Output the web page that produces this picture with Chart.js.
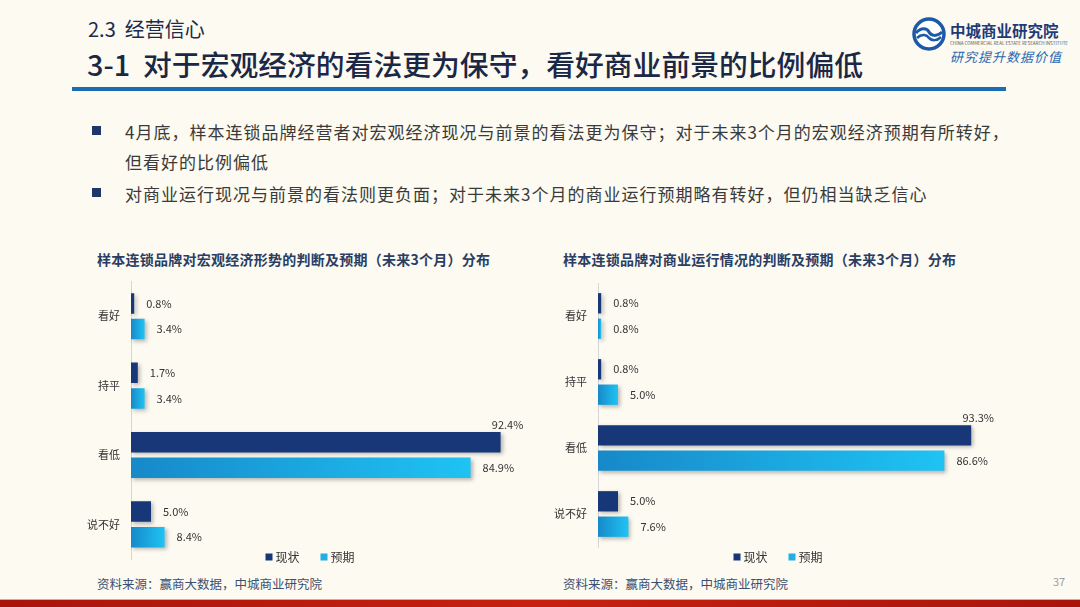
<!DOCTYPE html>
<html>
<head>
<meta charset="utf-8">
<script src="https://cdn.jsdelivr.net/npm/chart.js@4/dist/chart.umd.min.js"></script>
<style>
  body { margin: 0; width: 1080px; height: 607px; background: #fcfaf1; position: relative; overflow: hidden;
         font-family: "Noto Sans CJK SC", "Noto Sans", sans-serif; }
  .abs { position: absolute; white-space: nowrap; }
  .sub { left: 88px; top: 14px; font-size: 20px; color: #1c2b4b; }
  .title { left: 87px; top: 43px; font-size: 28.8px; color: #1a2745; font-weight: 500; }
  .rule { left: 72px; top: 87px; width: 934px; height: 4px; background: #1c6cb2; }
  .bullet { left: 125px; font-size: 17px; color: #3a3a3a; letter-spacing: 1px; }
  .sq { width: 9px; height: 9px; background: #1e3768; left: 92px; }
  .ctitle { font-size: 14px; font-weight: bold; color: #2a3d63; top: 249px; letter-spacing: 0.25px; }
  .src { font-size: 12.5px; color: #3d4f70; top: 574px; }
  .page { left: 1053px; top: 573px; font-size: 11px; color: #a0a0a0; }
  .band { left: 0; top: 599px; width: 1080px; height: 8px; background: linear-gradient(90deg, #a8150c, #c8200f 50%, #a8150c); border-top: 1px solid #e7a58e; }
  .box { position: absolute; }
</style>
</head>
<body>
<div class="abs sub">2.3&nbsp; 经营信心</div>
<div class="abs title">3-1&nbsp; 对于宏观经济的看法更为保守，看好商业前景的比例偏低</div>
<div class="abs rule"></div>

<svg class="abs" style="left:911px;top:16px" width="36" height="36" viewBox="0 0 36 36">
  <circle cx="18" cy="18" r="15" fill="#ffffff" stroke="#1d5aa6" stroke-width="3.5"/>
  <path d="M5 17 C10 11, 16 12, 18 16 C20 20, 26 21, 31 16" fill="none" stroke="#1d5aa6" stroke-width="3"/>
  <path d="M6 22 C11 17, 16 19, 18 22 C21 25, 26 25, 30 21" fill="none" stroke="#1d5aa6" stroke-width="2.5"/>
</svg>
<div class="abs" style="left:950px;top:19px;font-size:15.5px;font-weight:bold;color:#1f3a78">中城商业研究院</div>
<div class="abs" style="left:950px;top:40px;font-size:4.5px;color:#555">CHINA COMMERCIAL REAL ESTATE RESEARCH INSTITUTE</div>
<div class="abs" style="left:950px;top:47px;font-size:13px;color:#2a66b0;font-style:italic;letter-spacing:1px">研究提升数据价值</div>

<div class="abs sq" style="top:126px"></div>
<div class="abs bullet" style="top:119px">4月底，样本连锁品牌经营者对宏观经济现况与前景的看法更为保守；对于未来3个月的宏观经济预期有所转好，</div>
<div class="abs bullet" style="top:149px">但看好的比例偏低</div>
<div class="abs sq" style="top:188px"></div>
<div class="abs bullet" style="top:181px">对商业运行现况与前景的看法则更负面；对于未来3个月的商业运行预期略有转好，但仍相当缺乏信心</div>

<div class="abs ctitle" style="left:97px">样本连锁品牌对宏观经济形势的判断及预期（未来3个月）分布</div>
<div class="abs ctitle" style="left:563px">样本连锁品牌对商业运行情况的判断及预期（未来3个月）分布</div>

<div class="box" style="left:80px;top:272px;width:460px;height:300px"><canvas id="macroChart" width="460" height="300"></canvas></div>
<div class="box" style="left:545px;top:272px;width:466px;height:300px"><canvas id="bizChart" width="466" height="300"></canvas></div>

<div class="abs src" style="left:97px">资料来源：赢商大数据，中城商业研究院</div>
<div class="abs src" style="left:563px">资料来源：赢商大数据，中城商业研究院</div>
<div class="abs page">37</div>
<div class="abs band"></div>

<script>
// Chart data
const categories = ['看好', '持平', '看低', '说不好'];
const seriesNames = ['现状', '预期'];
const macroCurrent = [0.8, 1.7, 92.4, 5.0];
const macroExpected = [3.4, 3.4, 84.9, 8.4];
const bizCurrent = [0.8, 0.8, 93.3, 5.0];
const bizExpected = [0.8, 5.0, 86.6, 7.6];

const FONT = '"Noto Sans CJK SC", "Noto Sans", sans-serif';
const DARK = '#173779';
const CYAN = '#20b0e6';

// Per-bar gradient for the "预期" bars
function cyanFill(context) {
    if (context.type !== 'data') return CYAN;
    const chart = context.chart;
    const xs = chart.scales.x;
    if (!xs || !chart.chartArea) return CYAN;
    const x0 = xs.getPixelForValue(0);
    const x1 = Math.max(xs.getPixelForValue(context.parsed.x), x0 + 1);
    const g = chart.ctx.createLinearGradient(x0, 0, x1, 0);
    g.addColorStop(0, '#1789c9');
    g.addColorStop(1, '#1fc3f3');
    return g;
}

// Soft shadow under bars
const shadowPlugin = {
    id: 'barShadow',
    beforeDatasetsDraw(chart) {
        const ctx = chart.ctx;
        ctx.save();
        ctx.shadowColor = 'rgba(0,0,0,0.28)';
        ctx.shadowBlur = 4;
        ctx.shadowOffsetX = 2;
        ctx.shadowOffsetY = 2;
    },
    afterDatasetsDraw(chart) {
        chart.ctx.restore();
    }
};

// Value labels: next to bar end, big "现状" values above the bar
const valueLabels = {
    id: 'valueLabels',
    afterDatasetsDraw(chart) {
        const ctx = chart.ctx;
        ctx.save();
        ctx.font = '11px ' + FONT;
        ctx.fillStyle = '#333';
        chart.data.datasets.forEach((ds, di) => {
            chart.getDatasetMeta(di).data.forEach((bar, i) => {
                const v = ds.data[i];
                const txt = v.toFixed(1) + '%';
                if (di === 0 && v > 50) {
                    ctx.textAlign = 'center';
                    ctx.textBaseline = 'bottom';
                    ctx.fillText(txt, bar.x + 7, bar.y - bar.height / 2 - 2);
                } else {
                    ctx.textAlign = 'left';
                    ctx.textBaseline = 'middle';
                    ctx.fillText(txt, bar.x + 12, bar.y);
                }
            });
        });
        ctx.restore();
    }
};

// Small legend drawn under the plot
const miniLegend = {
    id: 'miniLegend',
    afterDraw(chart, args, opts) {
        const ctx = chart.ctx;
        ctx.save();
        ctx.font = '12px ' + FONT;
        ctx.textBaseline = 'middle';
        ctx.textAlign = 'left';
        const items = chart.data.datasets.map((ds, i) => ({ text: ds.label, color: i === 0 ? DARK : CYAN }));
        const widths = items.map(it => 7 + 3 + ctx.measureText(it.text).width);
        const gap = 21;
        let x = opts.cx - (widths.reduce((a, b) => a + b, 0) + gap * (items.length - 1)) / 2;
        items.forEach((it, i) => {
            ctx.fillStyle = it.color;
            ctx.fillRect(x, opts.cy - 3.5, 7, 7);
            ctx.fillStyle = '#333';
            ctx.fillText(it.text, x + 10, opts.cy + 0.5);
            x += widths[i] + gap;
        });
        ctx.restore();
    }
};

function makeChart(id, current, expected, axisWidth, pad, legendPos, catPct) {
    return new Chart(document.getElementById(id), {
        type: 'bar',
        data: {
            labels: categories,
            datasets: [{
                label: seriesNames[0],
                data: current,
                backgroundColor: DARK,
                categoryPercentage: catPct,
                barPercentage: 0.8
            }, {
                label: seriesNames[1],
                data: expected,
                backgroundColor: cyanFill,
                categoryPercentage: catPct,
                barPercentage: 0.8
            }]
        },
        plugins: [shadowPlugin, valueLabels, miniLegend],
        options: {
            indexAxis: 'y',
            responsive: false,
            animation: false,
            layout: { padding: pad },
            scales: {
                x: { min: 0, max: 100, display: false },
                y: {
                    grid: { display: false },
                    border: { display: true, color: '#d6d6d6', width: 1 },
                    ticks: { color: '#333', font: { size: 11, family: FONT }, padding: 3 },
                    afterFit: scale => { scale.width = axisWidth; }
                }
            },
            plugins: {
                legend: { display: false },
                tooltip: { enabled: false },
                miniLegend: legendPos
            }
        }
    });
}

makeChart('macroChart', macroCurrent, macroExpected, 51,
    { top: 9, right: 9, bottom: 13, left: 0 }, { cx: 230, cy: 285 }, 0.74);
makeChart('bizChart', bizCurrent, bizExpected, 53,
    { top: 11, right: 13, bottom: 25, left: 0 }, { cx: 233, cy: 285 }, 0.77);
</script>
</body>
</html>
